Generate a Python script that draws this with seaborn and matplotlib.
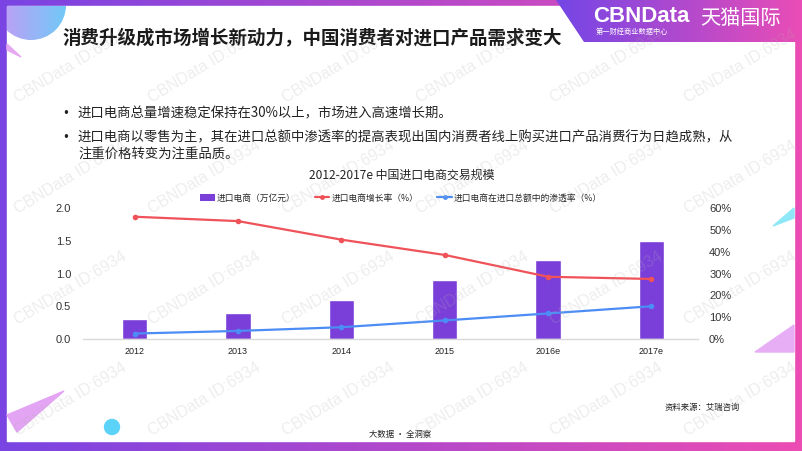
import numpy as np
import pandas as pd
import seaborn as sns
import matplotlib.pyplot as plt
from matplotlib.patches import Patch, Rectangle, Polygon, Circle
from matplotlib.lines import Line2D
from matplotlib.colors import LinearSegmentedColormap
from matplotlib.ticker import PercentFormatter

# data
years = ['2012', '2013', '2014', '2015', '2016e', '2017e']
volume = [0.3, 0.4, 0.6, 0.9, 1.2, 1.5]              # 万亿元
growth = [56.0, 54.0, 45.5, 38.5, 28.5, 27.5]        # %
penetration = [2.5, 3.7, 5.4, 8.5, 11.7, 15.0]       # %

legend_labels = ['进口电商（万亿元）', '进口电商增长率（%）', '进口电商在进口总额中的渗透率（%）']
left_ticks = [0.0, 0.5, 1.0, 1.5, 2.0]
right_ticks = [0, 10, 20, 30, 40, 50, 60]

df = pd.DataFrame({'year': years, 'volume': volume, 'growth': growth, 'pen': penetration})
df['pos'] = np.arange(len(df))

sns.set_theme(style='white')
plt.rcParams['font.family'] = ['Noto Sans CJK SC', 'DejaVu Sans']
plt.rcParams['axes.unicode_minus'] = False

purple = '#7b3fd9'
red = '#f05259'
blue = '#4c8df5'

W, H = 802, 451
fig = plt.figure(figsize=(W / 100, H / 100), dpi=100)

# page frame and decorations
bg = fig.add_axes([0, 0, 1, 1], zorder=-5)
frame_cm = LinearSegmentedColormap.from_list('frame', ['#7944e3', '#ec4db3'])
ramp = np.linspace(0, 1, 256)[None, :]
bg.imshow(ramp, cmap=frame_cm, extent=[0, W, H, 0], aspect='auto', zorder=0)
bg.add_patch(Rectangle((7, 6), 787, 435, color='white', zorder=1))

banner = bg.imshow(ramp, cmap=LinearSegmentedColormap.from_list('b', ['#7446e6', '#ea4db6']),
                   extent=[556, W, 42, 0], aspect='auto', zorder=2)
banner.set_clip_path(Polygon([(556, 0), (W, 0), (W, 42), (584, 42)], transform=bg.transData))

circ_img = bg.imshow(ramp, cmap=LinearSegmentedColormap.from_list('c', ['#b9a2f5', '#70c9f8']),
                     extent=[7, 66, 41, 6], aspect='auto', zorder=2)
circ_img.set_clip_path(Circle((31, 5), 35, transform=bg.transData))
bg.add_patch(Polygon([(7, 44), (21, 57), (7, 50)], color='#e6a8f2', zorder=2))
bg.add_patch(Polygon([(7, 415), (64, 391), (17, 432)], color='#e3a4f3', zorder=2))
bg.add_patch(Circle((112, 427), 7.5, color='#5bd3f9', zorder=2))
bg.add_patch(Polygon([(755, 352), (794, 325), (794, 352)], color='#e7aef6', zorder=2))
bg.add_patch(Polygon([(773, 226), (794, 208), (794, 218)], color='#8ee8f7', zorder=2))
bg.set_xlim(0, W)
bg.set_ylim(H, 0)
bg.axis('off')

# main chart
ax = fig.add_axes([83 / W, 1 - 339 / H, (698 - 83) / W, (339 - 208) / H])
ax.patch.set_alpha(0)
sns.barplot(data=df, x='year', y='volume', color=purple, saturation=1, width=0.245, ax=ax)

ax2 = ax.twinx()
sns.lineplot(data=df, x='pos', y='growth', color=red, marker='o', markersize=4,
             markeredgewidth=0, linewidth=1.6, ax=ax2, legend=False)
sns.lineplot(data=df, x='pos', y='pen', color=blue, marker='o', markersize=4,
             markeredgewidth=0, linewidth=1.6, ax=ax2, legend=False)

ax.set_xlim(-0.5, 5.45)
ax.set_ylim(0, 2.0)
ax2.set_ylim(0, 60)
ax.set_xlabel('')
ax.set_ylabel('')
ax2.set_xlabel('')
ax2.set_ylabel('')

ax.set_xticks(df['pos'])
ax.set_xticklabels(years, fontsize=6.5, fontfamily='Liberation Sans', color='#222222')
ax.set_yticks(left_ticks)
ax.set_yticklabels([f'{v:.1f}' for v in left_ticks], fontsize=8, fontfamily='Liberation Sans', color='#333333')
ax2.set_yticks(right_ticks)
ax2.yaxis.set_major_formatter(PercentFormatter(100, decimals=0))
for lbl in ax2.get_yticklabels():
    lbl.set_fontfamily('Liberation Sans')
    lbl.set_fontsize(8)
    lbl.set_color('#333333')
ax.tick_params(axis='y', length=0, pad=8.6)
ax.tick_params(axis='x', length=0, pad=6)
ax2.tick_params(axis='y', length=0, pad=8)

for s in ax.spines.values():
    s.set_visible(False)
for s in ax2.spines.values():
    s.set_visible(False)
ax.spines['bottom'].set_visible(True)
ax.spines['bottom'].set_color('#d9d9d9')
ax.spines['bottom'].set_linewidth(1)
ax.grid(False)
ax2.grid(False)

handles = [Patch(facecolor=purple, edgecolor='none'),
           Line2D([], [], color=red, marker='o', markersize=3.5, markeredgewidth=0, linewidth=1.6),
           Line2D([], [], color=blue, marker='o', markersize=3.5, markeredgewidth=0, linewidth=1.6)]
fig.legend(handles, legend_labels, loc='center', bbox_to_anchor=(401 / W, 1 - 198 / H), ncol=3,
           frameon=False, fontsize=6.3, handlelength=1.7, handleheight=0.8,
           columnspacing=2.2, handletextpad=0.2)

# texts
fig.text(62 / W, 1 - 38 / H, '消费升级成市场增长新动力，中国消费者对进口产品需求变大',
         fontsize=13.3, fontweight='bold', va='center', ha='left', color='#1a1a1a')
for by in [113, 137]:
    fig.text(62 / W, 1 - by / H, '•', fontsize=8.5, va='center', color='#222222', family='DejaVu Sans')
fig.text(78 / W, 1 - 113 / H, '进口电商总量增速稳定保持在30%以上，市场进入高速增长期。',
         fontsize=9.6, va='center', color='#222222')
fig.text(78 / W, 1 - 137 / H,
         '进口电商以零售为主，其在进口总额中渗透率的提高表现出国内消费者线上购买进口产品消费行为日趋成熟，从',
         fontsize=9.6, va='center', color='#222222')
fig.text(78 / W, 1 - 154 / H, '注重价格转变为注重品质。', fontsize=9.6, va='center', color='#222222')
fig.text(402 / W, 1 - 175 / H, '2012-2017e 中国进口电商交易规模', fontsize=8.6, ha='center',
         va='center', color='#222222')
fig.text(740 / W, 1 - 407 / H, '资料来源：艾瑞咨询', fontsize=6, ha='right', va='center', color='#222222')
fig.text(400 / W, 1 - 434 / H, '大数据 · 全洞察', fontsize=6, ha='center', va='center', color='#222222')

fig.text(593 / W, 1 - 17 / H, 'CBNData', fontsize=16, fontweight='bold', color='white',
         family='Liberation Sans', va='center')
fig.text(596 / W, 1 - 32 / H, '第一财经商业数据中心', fontsize=5.2, color='white', va='center')
fig.text(700 / W, 1 - 18 / H, '天猫国际', fontsize=14.5, color='white', va='center')

# watermarks
for cx in [70, 204, 338, 472, 606, 740]:
    for cy in [66, 177, 288, 399]:
        fig.text(cx / W, 1 - cy / H, 'CBNData ID:6934', rotation=31, rotation_mode='anchor',
                 ha='center', va='center', fontsize=11.5, color='#b0b0b0', alpha=0.22,
                 family='Liberation Sans', zorder=10)

fig.savefig('out.png', dpi=100)
